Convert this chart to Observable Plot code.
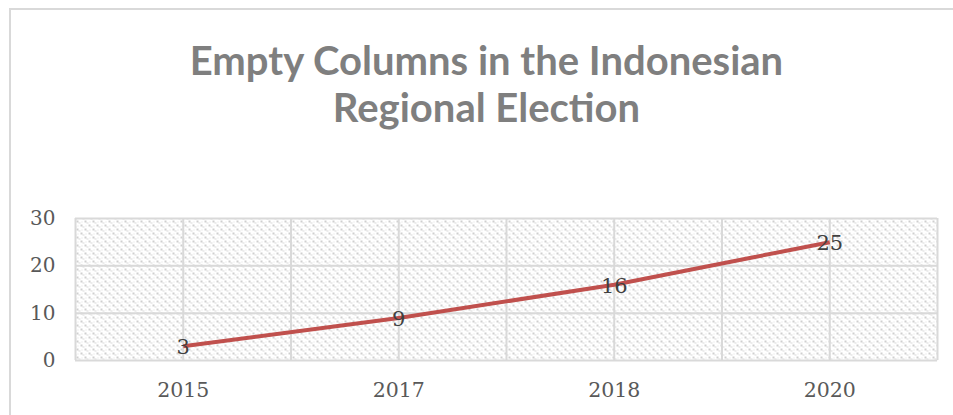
<!DOCTYPE html>
<html>
<head>
<meta charset="utf-8">
<script src="https://cdn.jsdelivr.net/npm/d3@7"></script>
<script src="https://cdn.jsdelivr.net/npm/@observablehq/plot@0.6"></script>
<style>
  html, body { margin: 0; padding: 0; background: #fff; }
  #wrap { position: relative; width: 953px; height: 415px; overflow: hidden; }
  #border { position: absolute; left: 9px; top: 8px; width: 960px; height: 420px;
            border-left: 2px solid #d9d9d9; border-top: 2px solid #d9d9d9; }
  #title { position: absolute; left: 0; width: 973px; top: 37px; text-align: center;
           font-family: Lato, "Open Sans", sans-serif; font-weight: bold; font-size: 40px;
           line-height: 47px; color: #7f7f7f; }
  #chart { position: absolute; left: 0; top: 0; }
</style>
</head>
<body>
<div id="wrap">
  <div id="border"></div>
  <div id="title">Empty Columns in the Indonesian<br>Regional Election</div>
  <div id="chart"></div>
</div>
<script>
const years = ["2015", "2017", "2018", "2020"];
const values = [3, 9, 16, 25];
const yTicks = [0, 10, 20, 30];

const data = years.map((y, i) => ({i, year: y, value: values[i]}));
const vGrid = d3.range(-0.5, years.length - 0.5 + 0.01, 0.5);

const plot = Plot.plot({
  width: 953,
  height: 415,
  marginTop: 218,
  marginBottom: 55,
  marginLeft: 75,
  marginRight: 16,
  style: {background: "transparent", overflow: "visible"},
  x: {type: "linear", domain: [-0.5, years.length - 0.5], axis: null},
  y: {domain: [0, 30], axis: null},
  marks: [
    Plot.frame({fill: "url(#hatch)", stroke: null}),
    Plot.ruleY(yTicks, {y: d => d, stroke: "#d9d9d9", strokeWidth: 2, strokeOpacity: 1}),
    Plot.ruleX(vGrid, {x: d => d, stroke: "#d9d9d9", strokeWidth: 2, strokeOpacity: 1}),
    Plot.line(data, {x: "i", y: "value", stroke: "#C0504D", strokeWidth: 4, strokeLinecap: "butt"}),
    Plot.text(data, {x: "i", y: "value", text: d => String(d.value), fill: "#404040",
      fontFamily: "DejaVu Serif", fontSize: 21, dy: 1}),
    Plot.axisY(yTicks, {tickSize: 0, tickPadding: 20, fontFamily: "DejaVu Serif", fontSize: 20,
      color: "#595959", label: null, tickFormat: d => String(d)}),
    Plot.axisX(d3.range(years.length), {tickSize: 0, tickPadding: 22, fontFamily: "DejaVu Serif", fontSize: 20.5,
      color: "#595959", label: null, tickFormat: i => years[i]})
  ]
});

const ns = "http://www.w3.org/2000/svg";
const defs = document.createElementNS(ns, "defs");
defs.innerHTML = `
  <pattern id="hatch" patternUnits="userSpaceOnUse" width="8" height="8">
    <rect width="8" height="8" fill="#ffffff"/>
    <rect x="0" y="0" width="2" height="2" fill="#cfcfcf"/>
    <rect x="2" y="2" width="2" height="1" fill="#d8d8d8"/>
    <rect x="4" y="4" width="2" height="2" fill="#cfcfcf"/>
    <rect x="6" y="6" width="2" height="1" fill="#d8d8d8"/>
    <rect x="5" y="1" width="1" height="1" fill="#e0e0e0"/>
    <rect x="1" y="5" width="1" height="1" fill="#e0e0e0"/>
  </pattern>`;
plot.insertBefore(defs, plot.firstChild);
document.getElementById("chart").appendChild(plot);
</script>
</body>
</html>
